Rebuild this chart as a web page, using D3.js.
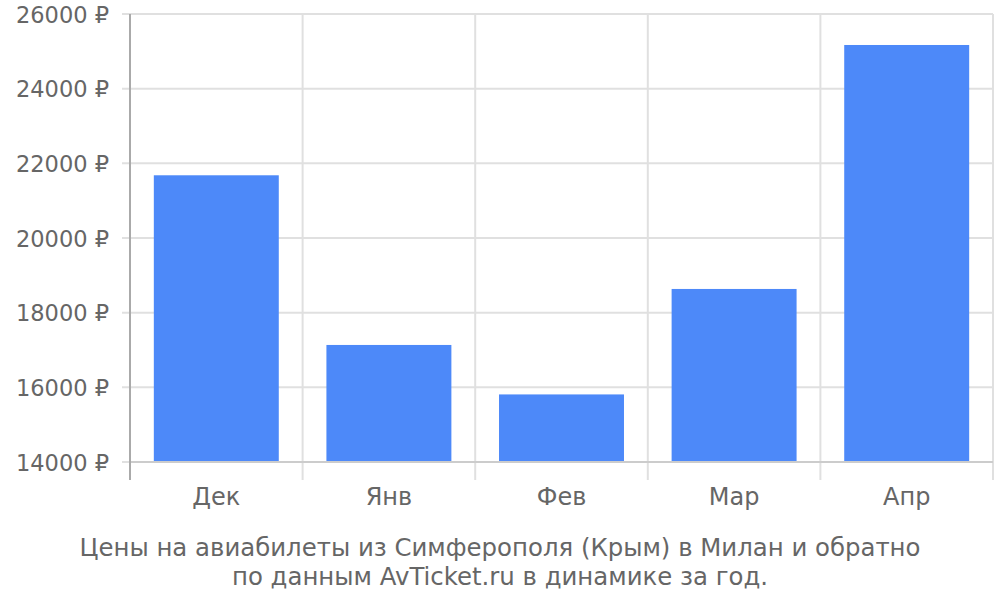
<!DOCTYPE html>
<html><head><meta charset="utf-8">
<script src="https://cdn.jsdelivr.net/npm/d3@7"></script>
<style>body{margin:0;background:#fff}svg{display:block;font-family:"DejaVu Sans",sans-serif}</style>
</head><body><svg id="c" width="1000" height="600"></svg>
<script>
const categories = ["Дек","Янв","Фев","Мар","Апр"];
const prices = [21680, 17135, 15810, 18635, 25170];
const yTicks = [14000,16000,18000,20000,22000,24000,26000];
const titleLines = ["Цены на авиабилеты из Симферополя (Крым) в Милан и обратно","по данным AvTicket.ru в динамике за год."];

const svg = d3.select("#c");
const L=130, R=993, T=14, B=462;
const x = d3.scaleBand().domain(categories).range([L,R]).paddingInner(0.276).paddingOuter(0.138);
const y = d3.scaleLinear().domain([14000,26000]).range([B,T]);
const step = x.step();

// horizontal grid
svg.append("g").selectAll("line").data(yTicks).join("line")
  .attr("x1",L-8).attr("x2",R).attr("y1",d=>y(d)).attr("y2",d=>y(d))
  .attr("stroke","#e0e0e0").attr("stroke-width",2);
// vertical grid at band edges
const edges = categories.map((c,i)=>L+i*step).concat([R]);
svg.append("g").selectAll("line").data(edges.slice(1)).join("line")
  .attr("x1",d=>d).attr("x2",d=>d).attr("y1",T).attr("y2",B+18)
  .attr("stroke","#e0e0e0").attr("stroke-width",2);

// bars
svg.append("g").selectAll("rect").data(categories).join("rect")
  .attr("x",d=>x(d)).attr("width",x.bandwidth())
  .attr("y",(d,i)=>y(prices[i])).attr("height",(d,i)=>B-y(prices[i]))
  .attr("fill","#4d89f9");

// baseline and left axis
svg.append("line").attr("x1",L).attr("x2",R).attr("y1",B).attr("y2",B).attr("stroke","#cccccc").attr("stroke-width",2);
svg.append("line").attr("x1",L).attr("x2",L).attr("y1",T).attr("y2",B+18).attr("stroke","#aaaaaa").attr("stroke-width",2);

// y labels
const yAxis = d3.axisLeft(y).tickValues(yTicks).tickSize(0).tickPadding(0).tickFormat(d=>d+" ₽");
const gy = svg.append("g").attr("transform",`translate(${L-21},0)`).call(yAxis);
gy.select(".domain").remove();
gy.selectAll("text").attr("font-size",22.5).attr("fill","#666").attr("font-family","DejaVu Sans").attr("dy","0.36em");

// x labels
const xAxis = d3.axisBottom(x).tickSize(0).tickPadding(0);
const gx = svg.append("g").attr("transform",`translate(0,${B+20})`).call(xAxis);
gx.select(".domain").remove();
gx.selectAll("text").attr("font-size",24).attr("fill","#666").attr("font-family","DejaVu Sans").attr("y",0).attr("dy",23);

// title
svg.append("g").selectAll("text").data(titleLines).join("text")
  .attr("x",500).attr("y",(d,i)=>556+i*29).attr("text-anchor","middle")
  .attr("font-size",24.4).attr("fill","#666").text(d=>d);
</script></body></html>
